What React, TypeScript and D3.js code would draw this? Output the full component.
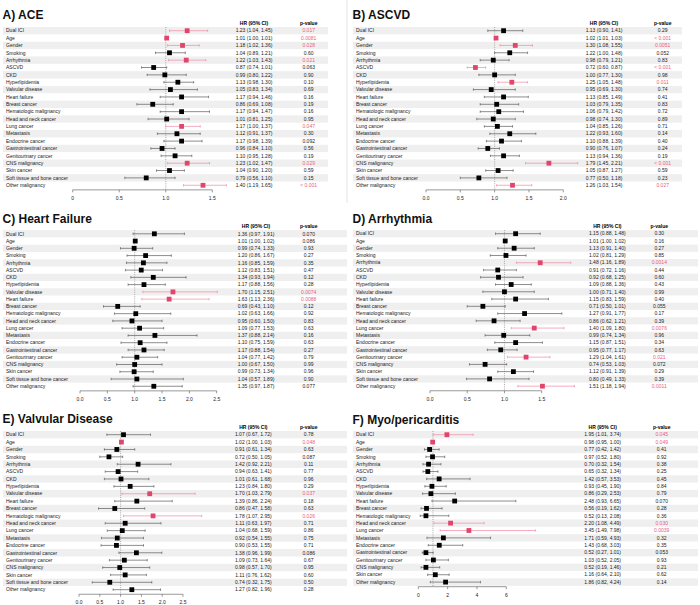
import * as d3 from "d3";

const LABELS = [
  "Dual ICI", "Age", "Gender", "Smoking", "Arrhythmia", "ASCVD", "CKD",
  "Hyperlipidemia", "Valvular disease", "Heart failure", "Breast cancer",
  "Hematologic malignancy", "Head and neck cancer", "Lung cancer", "Metastasis",
  "Endocrine cancer", "Gastrointestinal cancer", "Genitourinary cancer",
  "CNS malignancy", "Skin cancer", "Soft tissue and bone cancer", "Other malignancy",
];
const LABELS_F = LABELS.filter((d) => d !== "Soft tissue and bone cancer");

// A) ACE
const ACE_HR = [1.23, 1.01, 1.18, 1.04, 1.22, 0.87, 0.99, 1.13, 1.05, 1.17, 0.86, 1.17, 1.01, 1.17, 1.12, 1.17, 0.96, 1.10, 1.23, 1.04, 0.79, 1.40];
const ACE_LO = [1.04, 1.00, 1.02, 0.89, 1.03, 0.74, 0.80, 0.98, 0.83, 0.94, 0.69, 0.94, 0.81, 1.00, 0.91, 0.98, 0.84, 0.95, 1.02, 0.90, 0.56, 1.19];
const ACE_HI = [1.45, 1.01, 1.36, 1.21, 1.43, 1.01, 1.22, 1.30, 1.34, 1.46, 1.08, 1.47, 1.25, 1.37, 1.37, 1.39, 1.10, 1.28, 1.47, 1.20, 1.10, 1.65];
const ACE_P = ["0.017", "0.0081", "0.028", "0.60", "0.021", "0.063", "0.90", "0.10", "0.69", "0.16", "0.19", "0.16", "0.95", "0.047", "0.30", "0.092", "0.56", "0.19", "0.029", "0.59", "0.15", "< 0.001"];

// B) ASCVD
const ASCVD_HR = [1.13, 1.02, 1.30, 1.22, 0.98, 0.72, 1.00, 1.25, 0.95, 1.13, 1.03, 1.06, 0.98, 1.04, 1.22, 1.10, 0.90, 1.13, 1.79, 1.05, 0.77, 1.26];
const ASCVD_LO = [0.90, 1.01, 1.08, 1.00, 0.79, 0.60, 0.77, 1.05, 0.69, 0.85, 0.79, 0.79, 0.74, 0.85, 0.93, 0.88, 0.76, 0.94, 1.45, 0.87, 0.50, 1.03];
const ASCVD_HI = [1.41, 1.03, 1.55, 1.48, 1.21, 0.87, 1.30, 1.48, 1.30, 1.49, 1.35, 1.42, 1.30, 1.26, 1.60, 1.39, 1.07, 1.36, 2.21, 1.27, 1.18, 1.54];
const ASCVD_P = ["0.29", "< 0.001", "0.0051", "0.052", "0.83", "< 0.001", "0.98", "0.011", "0.74", "0.41", "0.83", "0.72", "0.89", "0.71", "0.14", "0.40", "0.24", "0.19", "< 0.001", "0.59", "0.23", "0.027"];

// C) Heart Failure
const HF_HR = [1.36, 1.01, 0.99, 1.20, 1.16, 1.12, 1.34, 1.17, 1.70, 1.63, 0.69, 1.02, 0.95, 1.09, 1.37, 1.10, 1.17, 1.04, 1.00, 0.99, 1.04, 1.35];
const HF_LO = [0.97, 1.00, 0.74, 0.86, 0.85, 0.83, 0.93, 0.88, 1.15, 1.13, 0.43, 0.63, 0.60, 0.77, 0.88, 0.75, 0.88, 0.77, 0.67, 0.73, 0.57, 0.97];
const HF_HI = [1.91, 1.02, 1.33, 1.67, 1.59, 1.51, 1.94, 1.56, 2.51, 2.36, 1.10, 1.66, 1.50, 1.53, 2.14, 1.59, 1.54, 1.42, 1.50, 1.34, 1.89, 1.87];
const HF_P = ["0.070", "0.086", "0.93", "0.27", "0.35", "0.47", "0.12", "0.28", "0.0074", "0.0088", "0.12", "0.92", "0.83", "0.63", "0.16", "0.63", "0.27", "0.79", "0.99", "0.96", "0.90", "0.077"];

// D) Arrhythmia
const AR_HR = [1.15, 1.01, 1.13, 1.02, 1.48, 0.91, 0.92, 1.09, 1.00, 1.15, 0.71, 1.27, 0.86, 1.40, 0.99, 1.15, 0.95, 1.29, 0.74, 1.12, 0.80, 1.51];
const AR_LO = [0.88, 1.00, 0.91, 0.81, 1.16, 0.72, 0.68, 0.88, 0.71, 0.83, 0.50, 0.91, 0.62, 1.09, 0.74, 0.87, 0.77, 1.04, 0.53, 0.91, 0.49, 1.18];
const AR_HI = [1.48, 1.02, 1.40, 1.29, 1.89, 1.16, 1.25, 1.36, 1.40, 1.59, 1.01, 1.77, 1.21, 1.80, 1.34, 1.51, 1.17, 1.61, 1.03, 1.39, 1.33, 1.94];
const AR_P = ["0.30", "0.16", "0.27", "0.85", "0.0014", "0.44", "0.60", "0.43", "0.99", "0.40", "0.055", "0.17", "0.39", "0.0076", "0.96", "0.34", "0.63", "0.021", "0.072", "0.29", "0.39", "0.0011"];

// E) Valvular Disease
const VD_HR = [1.07, 1.02, 0.91, 0.72, 1.42, 0.94, 1.01, 1.23, 1.70, 1.39, 0.86, 1.78, 1.11, 1.04, 0.92, 0.90, 1.38, 1.09, 0.98, 1.11, 0.74, 1.27];
const VD_LO = [0.67, 1.00, 0.61, 0.50, 0.92, 0.63, 0.61, 0.84, 1.03, 0.86, 0.47, 1.07, 0.63, 0.68, 0.54, 0.53, 0.96, 0.73, 0.57, 0.76, 0.32, 0.82];
const VD_HI = [1.72, 1.03, 1.34, 1.05, 2.21, 1.41, 1.68, 1.80, 2.79, 2.24, 1.58, 2.95, 1.97, 1.59, 1.55, 1.55, 1.99, 1.64, 1.70, 1.62, 1.75, 1.96];
const VD_P = ["0.78", "0.048", "0.63", "0.087", "0.11", "0.77", "0.96", "0.29", "0.037", "0.18", "0.63", "0.026", "0.71", "0.86", "0.75", "0.71", "0.086", "0.67", "0.95", "0.60", "0.50", "0.28"];

// F) Myo/pericarditis
const MP_HR = [1.95, 0.98, 0.77, 0.97, 0.70, 0.65, 1.42, 0.93, 0.86, 2.48, 0.56, 0.52, 2.20, 3.45, 1.71, 1.43, 0.52, 1.03, 0.52, 1.16, 1.86];
const MP_LO = [1.01, 0.95, 0.42, 0.52, 0.32, 0.32, 0.57, 0.45, 0.29, 0.93, 0.19, 0.13, 1.08, 1.49, 0.59, 0.68, 0.27, 0.52, 0.19, 0.64, 0.82];
const MP_HI = [3.74, 1.00, 1.42, 1.80, 1.54, 1.34, 3.53, 1.90, 2.53, 6.65, 1.62, 2.08, 4.49, 7.98, 4.93, 3.03, 1.01, 2.05, 1.46, 2.10, 4.24];
const MP_P = ["0.045", "0.049", "0.41", "0.92", "0.38", "0.25", "0.45", "0.84", "0.79", "0.070", "0.28", "0.36", "0.030", "0.0039", "0.32", "0.35", "0.053", "0.93", "0.21", "0.62", "0.14"];

const FONT = "'Liberation Sans', Arial, Helvetica, sans-serif";
const RED_BOX = "#e0466c";
const RED_LINE = "#f08aa2";
const RED_TEXT = "#e8607f";
const GREY_LINE = "#5c5c5c";
const STRIPE = "#efefef";

const f2 = d3.format(".2f");
const isSig = (p: string) => p.startsWith("<") || +p < 0.05;

type PanelProps = {
  x: number;
  y: number;
  title: string;
  titleY: number;
  labels: string[];
  hr: number[];
  lo: number[];
  hi: number[];
  p: string[];
  domain: [number, number];
  range: [number, number];
  ticks: number[];
  tickFmt: (v: number) => string;
  hrX: number;
  pX: number;
  stripe: [number, number];
  rowTop: number;
  step: number;
};

const Panel = (props: PanelProps) => {
  const { x, y, title, labels, hr, lo, hi, p, hrX, pX, stripe, rowTop, step } = props;
  const xScale = d3.scaleLinear().domain(props.domain).range(props.range);
  const rowY = (i: number) => rowTop + i * step;
  const axisY = rowY(labels.length - 1) + 4.6;
  const box = 4.8;

  return (
    <g transform={`translate(${x},${y})`} fontFamily={FONT}>
      <text x={2.5} y={props.titleY} fontSize={12} fontWeight="bold" fill="#111">
        {title}
      </text>

      {labels.map((d, i) =>
        i % 2 === 0 ? (
          <rect
            key={"s" + i}
            x={stripe[0]}
            y={rowY(i) - step / 2}
            width={stripe[1] - stripe[0]}
            height={step}
            fill={STRIPE}
          />
        ) : null
      )}

      <text x={hrX} y={rowTop - 7.4} dy="0.35em" fontSize={5} fontWeight="bold" textAnchor="middle">
        HR (95% CI)
      </text>
      <text x={pX} y={rowTop - 7.4} dy="0.35em" fontSize={5} fontWeight="bold" textAnchor="middle">
        p-value
      </text>

      {/* reference line at HR = 1 */}
      <line
        x1={xScale(1)}
        x2={xScale(1)}
        y1={rowTop - step / 2}
        y2={axisY}
        stroke="#888"
        strokeWidth={0.7}
        strokeDasharray="1,1.2"
      />

      {labels.map((d, i) => {
        const sig = isSig(p[i]);
        const cy = rowY(i);
        const x1 = xScale(lo[i]);
        const x2 = xScale(hi[i]);
        const lineColor = sig ? RED_LINE : GREY_LINE;
        return (
          <g key={i}>
            <text x={6} y={cy} dy="0.35em" fontSize={5} fill="#222">
              {d}
            </text>
            <line x1={x1} x2={x2} y1={cy} y2={cy} stroke={lineColor} strokeWidth={0.7} />
            <line x1={x1} x2={x1} y1={cy - 1.2} y2={cy + 1.2} stroke={lineColor} strokeWidth={0.7} />
            <line x1={x2} x2={x2} y1={cy - 1.2} y2={cy + 1.2} stroke={lineColor} strokeWidth={0.7} />
            <rect
              x={xScale(hr[i]) - box / 2}
              y={cy - box / 2}
              width={box}
              height={box}
              fill={sig ? RED_BOX : "#000"}
            />
            <text x={hrX} y={cy} dy="0.35em" fontSize={5} textAnchor="middle" fill="#222">
              {`${f2(hr[i])} (${f2(lo[i])}, ${f2(hi[i])})`}
            </text>
            <text x={pX} y={cy} dy="0.35em" fontSize={5} textAnchor="middle" fill={sig ? RED_TEXT : "#222"}>
              {p[i]}
            </text>
          </g>
        );
      })}

      {/* x axis */}
      <line
        x1={props.range[0]}
        x2={props.range[1]}
        y1={axisY}
        y2={axisY}
        stroke="#555"
        strokeWidth={0.6}
      />
      {props.ticks.map((t) => (
        <g key={t}>
          <line x1={xScale(t)} x2={xScale(t)} y1={axisY} y2={axisY + 2.5} stroke="#555" strokeWidth={0.6} />
          <text x={xScale(t)} y={axisY + 8.4} dy="0.35em" fontSize={5} textAnchor="middle" fill="#222">
            {props.tickFmt(t)}
          </text>
        </g>
      ))}
    </g>
  );
};

const fmt1 = d3.format(".1f");
const fmtA = (v: number) => (v === 0 ? "0" : fmt1(v));
const fmtInt = d3.format("d");

export default function App() {
  return (
    <svg
      width={700}
      height={605}
      style={{ position: "absolute", left: 0, top: 0, background: "#fff" }}
    >
      <rect width={700} height={605} fill="#fff" />
      <line x1={347} x2={347} y1={0} y2={203} stroke="#ddd" strokeWidth={0.8} />

      <Panel
        x={0} y={0} title="A) ACE" titleY={19} labels={LABELS}
        hr={ACE_HR} lo={ACE_LO} hi={ACE_HI} p={ACE_P}
        domain={[0, 1.5]} range={[72.7, 212.3]} ticks={[0, 0.5, 1, 1.5]} tickFmt={fmtA}
        hrX={254} pX={308.7} stripe={[3, 328]} rowTop={30.7} step={7.36}
      />
      <Panel
        x={350} y={0} title="B) ASCVD" titleY={19} labels={LABELS}
        hr={ASCVD_HR} lo={ASCVD_LO} hi={ASCVD_HI} p={ASCVD_P}
        domain={[0, 2]} range={[76, 213.3]} ticks={[0, 0.5, 1, 1.5, 2]} tickFmt={fmt1}
        hrX={254} pX={312.7} stripe={[3, 332]} rowTop={30.7} step={7.36}
      />
      <Panel
        x={0} y={200} title="C) Heart Failure" titleY={23} labels={LABELS}
        hr={HF_HR} lo={HF_LO} hi={HF_HI} p={HF_P}
        domain={[0, 2.5]} range={[80, 216.7]} ticks={[0, 0.5, 1, 1.5, 2, 2.5]} tickFmt={fmt1}
        hrX={256} pX={308.7} stripe={[3, 347]} rowTop={33.8} step={7.26}
      />
      <Panel
        x={350} y={200} title="D) Arrhythmia" titleY={23} labels={LABELS}
        hr={AR_HR} lo={AR_LO} hi={AR_HI} p={AR_P}
        domain={[0, 1.5]} range={[80, 191.7]} ticks={[0, 0.5, 1, 1.5]} tickFmt={fmt1}
        hrX={257.3} pX={309.3} stripe={[3, 348]} rowTop={33.7} step={7.26}
      />
      <Panel
        x={0} y={400} title="E) Valvular Disease" titleY={23} labels={LABELS}
        hr={VD_HR} lo={VD_LO} hi={VD_HI} p={VD_P}
        domain={[0, 2.5]} range={[79, 183]} ticks={[0, 0.5, 1, 1.5, 2, 2.5]} tickFmt={fmt1}
        hrX={253.3} pX={308.7} stripe={[3, 347]} rowTop={34.7} step={7.38}
      />
      <Panel
        x={350} y={400} title="F) Myo/pericarditis" titleY={23.5} labels={LABELS_F}
        hr={MP_HR} lo={MP_LO} hi={MP_HI} p={MP_P}
        domain={[0, 6]} range={[68.3, 156.3]} ticks={[0, 2, 4, 6]} tickFmt={fmtInt}
        hrX={252.7} pX={311.7} stripe={[3, 348]} rowTop={34.7} step={7.37}
      />
    </svg>
  );
}
